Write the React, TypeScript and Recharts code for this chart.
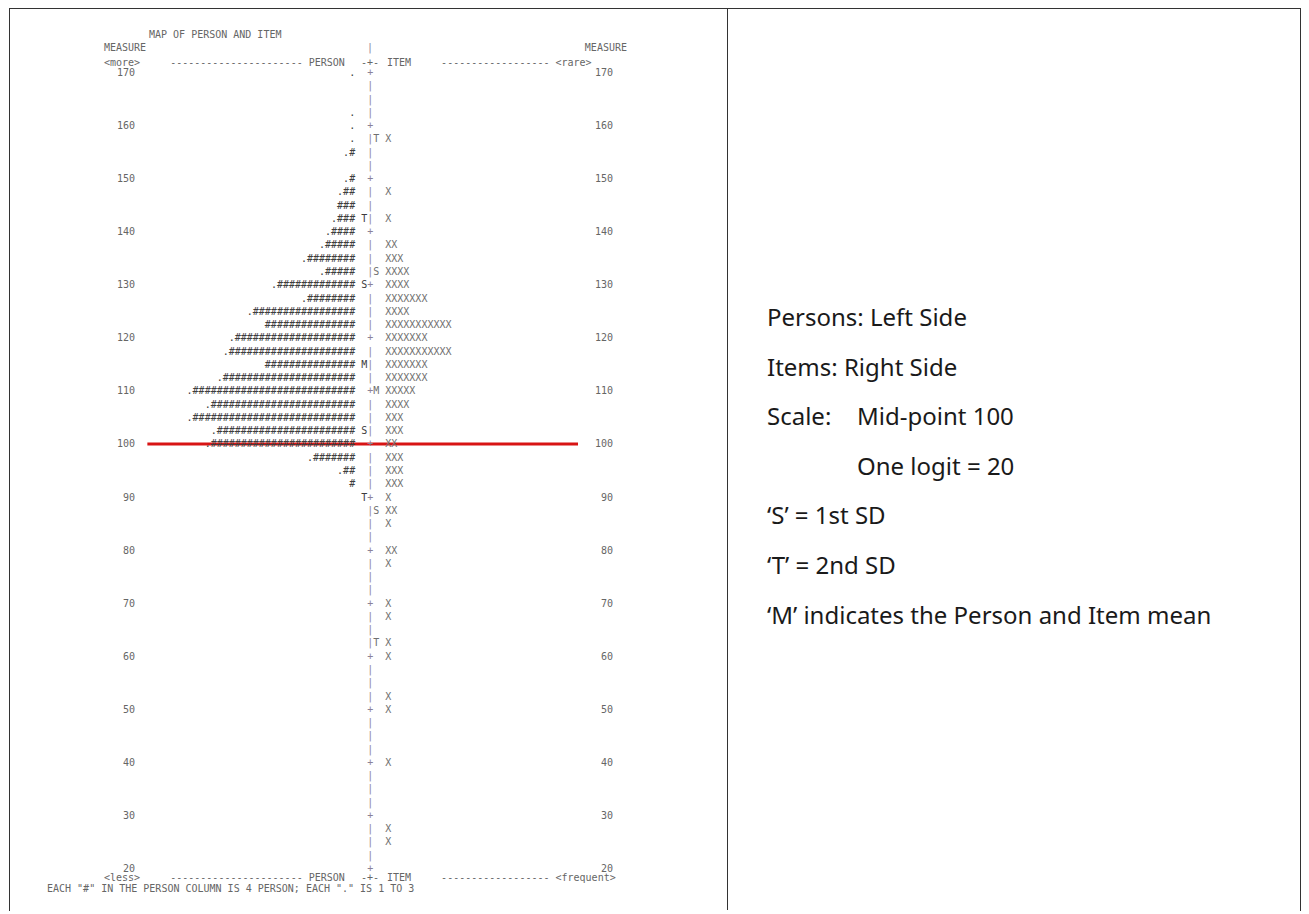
import React from 'react';
import { ScatterChart, Scatter, XAxis, YAxis, ReferenceLine } from 'recharts';

// one row every 2.5 measure units, top to bottom
const rowMeasures = [
  170, 167.5, 165, 162.5, 160, 157.5, 155, 152.5, 150, 147.5, 145, 142.5, 140, 137.5, 135, 132.5,
  130, 127.5, 125, 122.5, 120, 117.5, 115, 112.5, 110, 107.5, 105, 102.5, 100, 97.5, 95, 92.5,
  90, 87.5, 85, 82.5, 80, 77.5, 75, 72.5, 70, 67.5, 65, 62.5, 60, 57.5, 55, 52.5,
  50, 47.5, 45, 42.5, 40, 37.5, 35, 32.5, 30, 27.5, 25, 22.5, 20,
];

// "#" = 4 persons, "." = 1 to 3 persons
const personHashes = [
  0, 0, 0, 0, 0, 0, 1, 0, 1, 2, 3, 3, 4, 5, 8, 5,
  13, 8, 17, 15, 20, 21, 15, 22, 27, 24, 27, 23, 24, 7, 2, 1,
];
const personDots = [
  1, 0, 0, 1, 1, 1, 1, 0, 1, 1, 0, 1, 1, 1, 1, 1,
  1, 1, 1, 0, 1, 1, 0, 1, 1, 1, 1, 1, 1, 1, 1, 0,
];

// X per row (items at that measure)
const itemCounts = [
  0, 0, 0, 0, 0, 1, 0, 0, 0, 1, 0, 1, 0, 2, 3, 4,
  4, 7, 4, 11, 7, 11, 7, 7, 5, 4, 3, 3, 2, 3, 3, 3,
  1, 2, 1, 0, 2, 1, 0, 0, 1, 1, 0, 1, 1, 0, 0, 1,
  1, 0, 0, 0, 1, 0, 0, 0, 0, 1, 1, 0, 0,
];

// M = mean, S = 1 SD, T = 2 SD
const personStats: [number, string][] = [[142.5, 'T'], [130, 'S'], [115, 'M'], [102.5, 'S'], [90, 'T']];
const itemStats: [number, string][] = [[157.5, 'T'], [132.5, 'S'], [110, 'M'], [87.5, 'S'], [62.5, 'T']];

const measureTicks = [170, 160, 150, 140, 130, 120, 110, 100, 90, 80, 70, 60, 50, 40, 30, 20];

const AXIS_COL = 44.2;
const CH = 6.02;
const MONO = '"DejaVu Sans Mono", monospace';
const PRE = { whiteSpace: 'pre' } as const;

const rows = rowMeasures.map((m, i) => ({
  m,
  col: AXIS_COL,
  person: (personDots[i] ? '.' : '') + '#'.repeat(personHashes[i] || 0),
  pm: personStats.find((s) => s[0] === m)?.[1] || ' ',
  ax: m % 10 === 0 ? '+' : '|',
  im: itemStats.find((s) => s[0] === m)?.[1] || ' ',
  items: 'X'.repeat(itemCounts[i]),
}));

const RowShape = (props: any) => {
  const { cx, cy, payload } = props;
  return (
    <g fontFamily={MONO} fontSize={10}>
      <text x={cx - CH / 2} y={cy} dy={3.5} textAnchor="end" fill="#3d3d3d" style={PRE}>
        {payload.person + ' ' + payload.pm}
      </text>
      <text x={cx} y={cy} dy={3.5} textAnchor="middle" fill="#8b8198" style={PRE}>
        {payload.ax}
      </text>
      <text x={cx + CH / 2} y={cy} dy={3.5} textAnchor="start" fill="#707070" style={PRE}>
        {payload.im + ' ' + payload.items}
      </text>
    </g>
  );
};

// measure labels printed on both sides of the map
const MeasureTick = (props: any) => (
  <g fontFamily={MONO} fontSize={10} fill="#666">
    <text x={135} y={props.y} dy={3.5} textAnchor="end">
      {props.payload.value}
    </text>
    <text x={613} y={props.y} dy={3.5} textAnchor="end">
      {props.payload.value}
    </text>
  </g>
);

const GX = (c: number) => 104 + c * CH;

function MapText() {
  const t = { fontFamily: MONO, fontSize: 10, fill: '#666', style: PRE } as const;
  return (
    <svg width={1300} height={910} style={{ position: 'absolute', left: 0, top: 0, pointerEvents: 'none' }}>
      <text {...t} x={149} y={38}>MAP OF PERSON AND ITEM</text>
      <text {...t} x={GX(0)} y={51}>MEASURE</text>
      <text {...t} x={370} y={51} textAnchor="middle" fill="#8b8198">|</text>
      <text {...t} x={627} y={51} textAnchor="end">MEASURE</text>

      <text {...t} x={GX(0)} y={65.5}>{'<more>'}</text>
      <text {...t} x={GX(11)} y={65.5}>----------------------</text>
      <text {...t} x={GX(34)} y={65.5}>PERSON</text>
      <text {...t} x={370} y={65.5} textAnchor="middle">-+-</text>
      <text {...t} x={GX(47)} y={65.5}>ITEM</text>
      <text {...t} x={GX(56)} y={65.5}>------------------</text>
      <text {...t} x={GX(75)} y={65.5}>{'<rare>'}</text>

      <text {...t} x={GX(0)} y={880.5}>{'<less>'}</text>
      <text {...t} x={GX(11)} y={880.5}>----------------------</text>
      <text {...t} x={GX(34)} y={880.5}>PERSON</text>
      <text {...t} x={370} y={880.5} textAnchor="middle">-+-</text>
      <text {...t} x={GX(47)} y={880.5}>ITEM</text>
      <text {...t} x={GX(56)} y={880.5}>------------------</text>
      <text {...t} x={GX(75)} y={880.5}>{'<frequent>'}</text>
      <text {...t} x={47} y={891.5}>EACH "#" IN THE PERSON COLUMN IS 4 PERSON; EACH "." IS 1 TO 3</text>
    </svg>
  );
}

const notes: { label?: string; text: string }[] = [
  { text: 'Persons: Left Side' },
  { text: 'Items: Right Side' },
  { label: 'Scale:', text: 'Mid-point 100' },
  { label: '', text: 'One logit = 20' },
  { text: '\u2018S\u2019 = 1st SD' },
  { text: '\u2018T\u2019 = 2nd SD' },
  { text: '\u2018M\u2019 indicates the Person and Item mean' },
];

export default function App() {
  return (
    <div style={{ position: 'absolute', left: 0, top: 0, width: 1300, height: 910 }}>
      <div
        style={{
          position: 'absolute',
          left: 9,
          top: 8,
          width: 1290,
          height: 902,
          borderTop: '1px solid #333',
          borderLeft: '1px solid #333',
          borderRight: '1px solid #333',
        }}
      />
      <div style={{ position: 'absolute', left: 727, top: 8, width: 1, height: 902, background: '#333' }} />

      <div style={{ position: 'absolute', left: 0, top: 0 }}>
        <ScatterChart width={660} height={910} margin={{ top: 72.5, right: 32, bottom: 41.5, left: 103 }}>
          <XAxis type="number" dataKey="col" domain={[0, 87]} hide />
          <YAxis
            yAxisId="l"
            type="number"
            dataKey="m"
            domain={[20, 170]}
            ticks={measureTicks}
            width={1}
            axisLine={false}
            tickLine={false}
            tick={MeasureTick}
            interval={0}
          />
          <Scatter yAxisId="l" data={rows} shape={RowShape} isAnimationActive={false} />
          <ReferenceLine
            yAxisId="l"
            segment={[
              { x: 7.2, y: 100 },
              { x: 78.7, y: 100 },
            ]}
            stroke="#d81414"
            strokeWidth={3}
          />
        </ScatterChart>
      </div>
      <MapText />

      {notes.map((n, i) => (
        <div
          key={i}
          style={{
            position: 'absolute',
            left: 767,
            top: 300 + i * 49.6,
            height: 34,
            lineHeight: '34px',
            fontFamily: '"Noto Sans", sans-serif',
            fontSize: 24,
            color: '#1a1a1a',
            whiteSpace: 'pre',
          }}
        >
          {n.label !== undefined ? (
            <>
              <span style={{ display: 'inline-block', width: 90 }}>{n.label}</span>
              {n.text}
            </>
          ) : (
            n.text
          )}
        </div>
      ))}
    </div>
  );
}
